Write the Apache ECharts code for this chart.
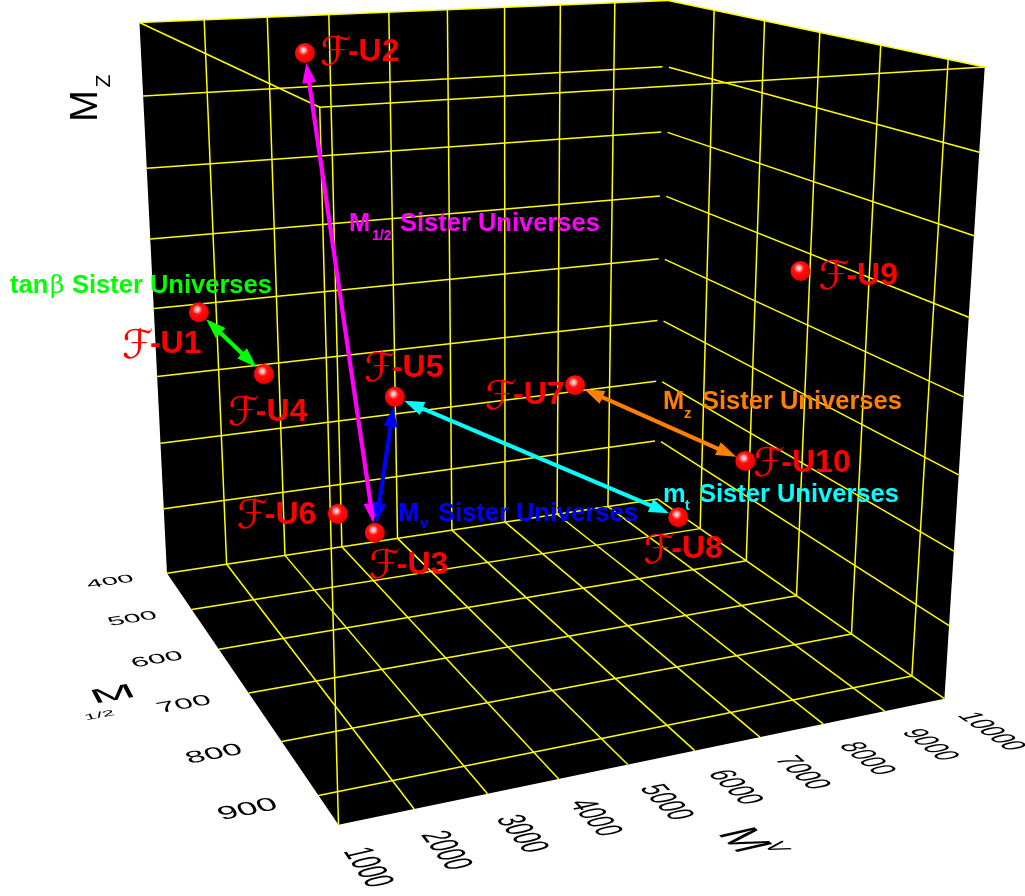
<!DOCTYPE html>
<html><head><meta charset="utf-8">
<style>html,body{margin:0;padding:0;background:#fff}#c{width:1025px;height:896px}</style>
<script src="https://cdn.jsdelivr.net/npm/echarts@6/dist/echarts.min.js"></script>
</head><body><div id="c"></div>
<script>
// ---- data ----
const universes=['U1','U2','U3','U4','U5','U6','U7','U8','U9','U10'];
const mHalf=[550,550,450,550,550,450,650,650,750,750];
const mV=[1120,2842,4316,2065,4133,3684,6445,8264,9335,8509];
const mZ=[4.46,7.77,0.44,3.52,2.98,0.82,3.31,1.17,4.98,2.44];
const mHalfTicks=[400,500,600,700,800,900];
const mVTicks=[1000,2000,3000,4000,5000,6000,7000,8000,9000,10000];
const mZTicks=[0,1,2,3,4,5,6,7,8];
const mHalfMax=950;
const sisters=[[0,3,'#00ff00'],[1,2,'#ff00ff'],[2,4,'#0000ff'],[4,7,'#00ffff'],[6,9,'#ff8000']];

// ---- camera: a perspective projection fitted to where the box sits on the page ----
const cameraAnchors=[
 [400,1000,0,167,572],[950,1000,0,340,826],[950,10000,0,947,697],[400,10000,0,660,500],
 [400,1000,8,139,22],[950,1000,8,322,107],[950,10000,8,986,67],[400,10000,8,666,1],
 [950,3000,0,487,795],[950,5000,0,626,765],[950,7000,0,757,737],[950,8000,0,821,723]];
const nm=m=>(m-400)/550,nv=v=>(v-1000)/9000,nz=z=>z/8;
function fit(){
 const A=[],b=[];
 cameraAnchors.forEach(([m,v,z,x,y])=>{const X=[nm(m),nv(v),nz(z),1];
  A.push([...X,0,0,0,0,...X.slice(0,3).map(q=>-q*x)]);b.push(x);
  A.push([0,0,0,0,...X,...X.slice(0,3).map(q=>-q*y)]);b.push(y);});
 const n=11,N=[];for(let i=0;i<n;i++){N.push(new Array(n+1).fill(0));
  for(let j=0;j<n;j++)for(let k=0;k<A.length;k++)N[i][j]+=A[k][i]*A[k][j];
  for(let k=0;k<A.length;k++)N[i][n]+=A[k][i]*b[k];}
 for(let i=0;i<n;i++){let p=i;for(let r=i;r<n;r++)if(Math.abs(N[r][i])>Math.abs(N[p][i]))p=r;
  [N[i],N[p]]=[N[p],N[i]];
  for(let r=0;r<n;r++)if(r!==i){const f=N[r][i]/N[i][i];for(let c=i;c<=n;c++)N[r][c]-=f*N[i][c];}}
 return N.map((row,i)=>row[n]/row[i]);
}
const P=fit();
function project(m,v,z){const a=nm(m),b=nv(v),c=nz(z);const w=P[8]*a+P[9]*b+P[10]*c+1;
 return [(P[0]*a+P[1]*b+P[2]*c+P[3])/w,(P[4]*a+P[5]*b+P[6]*c+P[7])/w];}

const FONT='"Liberation Sans",Arial,sans-serif';
const labelOffsets=[[-77,32],[15,-1],[-6,32],[-36,38],[-31,-29],[-101,1],[-90,10],[-35,32],[18,5],[8,2]];
const zMax=mZTicks[mZTicks.length-1],vMin=mVTicks[0],vMax=mVTicks[mVTicks.length-1],mMin=mHalfTicks[0];
const seg=[];
const inner=a=>a.slice(1,-1);
inner(mVTicks).forEach(v=>{seg.push([mMin,v,0,mMin,v,zMax]);seg.push([mMin,v,0,mHalfMax,v,0]);});
seg.push([mMin,vMax,0,mHalfMax,vMax,0]);
inner(mZTicks).forEach(z=>{seg.push([mMin,vMin,z,mMin,vMax-80,z]);seg.push([mMin+5,vMax,z,mHalfMax,vMax,z]);});
mHalfTicks.slice(1).forEach(m=>{seg.push([m,vMax,0,m,vMax,zMax]);seg.push([m,vMin,0,m,vMax,0]);});
seg.push([mMin,vMin,0,mMin,vMax,0]);
seg.push([mMin,vMin,zMax,mMin,vMax,zMax],[mMin,vMax,zMax,mHalfMax,vMax,zMax],[mMin,vMin,zMax,mHalfMax,vMin,zMax],[mHalfMax,vMin,zMax,mHalfMax,vMax,zMax],[mHalfMax,vMin,0,mHalfMax,vMin,zMax]);

function svd(a,b,c,d){const E=(a+d)/2,F=(a-d)/2,G=(c+b)/2,H=(c-b)/2,Q=Math.hypot(E,H),R=Math.hypot(F,G);
 const a1=Math.atan2(G,F),a2=Math.atan2(H,E);return {sx:Q+R,sy:Q-R,theta:(a2-a1)/2,phi:(a2+a1)/2};}
function planeText(api,item){
 const [m,v]=[item.m,item.v];const o=project(m,v,0);
 const um=item.along==='v'?[m,v+item.ku]:[m+item.ku,v];
 const vm=item.along==='v'?[m+item.kv,v]:[m,v-item.kv];
 const pu=project(um[0],um[1],0),pv=project(vm[0],vm[1],0);
 const s=svd(pu[0]-o[0],pv[0]-o[0],pu[1]-o[1],pv[1]-o[1]);
 const c=api.coord(o);
 return {type:'group',x:c[0],y:c[1],rotation:-s.phi,scaleX:s.sx,scaleY:s.sy,children:[{type:'text',rotation:-s.theta,
  style:{text:item.text,x:0,y:0,align:'center',verticalAlign:'middle',fill:'#000',font:item.size+'px '+FONT}}]};
}
const planeLabels=[];
mHalfTicks.forEach(m=>planeLabels.push({text:String(m),m:m,v:70,along:'v',ku:22.5,kv:1.5,size:20}));
mVTicks.forEach(v=>planeLabels.push({text:String(v),m:1018,v:v-10,along:'m',ku:1.3,kv:24.8,size:20}));
planeLabels.push({text:'M',m:657,v:-780,along:'v',ku:24.8,kv:1.35,size:30});
planeLabels.push({text:'1/2',m:692,v:-1090,along:'v',ku:24.8,kv:1.35,size:12});
planeLabels.push({text:'M',m:1093,v:5420,along:'m',ku:1.35,kv:24,size:30});
planeLabels.push({text:'V',m:1112,v:5710,along:'m',ku:1.35,kv:24,size:16});

const SZ=25.5;
const notes=[
 ['M',349,224,SZ,'#ff00ff'],['1/2',372,236,14,'#ff00ff'],['Sister Universes',400,224,SZ,'#ff00ff'],
 ['m',663,495,SZ,'#00ffff'],['t',685,506,14,'#00ffff'],['Sister Universes',699,495,SZ,'#00ffff'],
 ['M',663,402,SZ,'#ff8000'],['z',684,414,15,'#ff8000'],['Sister Universes',702,402,SZ,'#ff8000'],
 ['M',398,514,SZ,'#0000ff'],['v',420,524,15,'#0000ff'],['Sister Universes',438,514,SZ,'#0000ff'],
 ['tan',10,286,SZ,'#00ff00'],['Sister Universes',72,286,SZ,'#00ff00']];

const chart=echarts.init(document.getElementById('c'),null,{renderer:'canvas'});
chart.setOption({animation:false,backgroundColor:'#fff',grid:{left:0,right:0,top:0,bottom:0},
 xAxis:{type:'value',min:0,max:1025,show:false},yAxis:{type:'value',min:0,max:896,inverse:true,show:false},
 series:[
 {type:'custom',z:1,silent:true,data:[0],clip:false,renderItem(p,api){
   const pts=[[mMin,vMin,zMax],[mMin,vMax,zMax],[mHalfMax,vMax,zMax],[mHalfMax,vMax,0],[mHalfMax,vMin,0],[mMin,vMin,0]].map(q=>api.coord(project(...q)));
   return {type:'polygon',shape:{points:pts},style:{fill:'#000'}};}},
 {type:'custom',z:2,silent:true,data:seg,clip:false,renderItem(p,api){
   const a=api.coord(project(api.value(0),api.value(1),api.value(2))),b=api.coord(project(api.value(3),api.value(4),api.value(5)));
   return {type:'line',shape:{x1:a[0],y1:a[1],x2:b[0],y2:b[1]},style:{stroke:'#ffff00',lineWidth:1.5}};}},
 {type:'custom',z:3,silent:true,data:planeLabels.map((d,i)=>i),clip:false,encode:{x:0,y:0},renderItem(p,api){return planeText(api,planeLabels[p.dataIndex]);}},
 {type:'custom',z:3,silent:true,data:[0],clip:false,renderItem(p,api){
   const a=api.coord([87,106]),b=api.coord([104,81]);
   return {type:'group',children:[
    {type:'text',x:a[0],y:a[1],rotation:Math.PI/2,style:{text:'M',x:0,y:0,align:'center',verticalAlign:'middle',fill:'#000',font:'38px '+FONT}},
    {type:'text',x:b[0],y:b[1],rotation:Math.PI/2,style:{text:'Z',x:0,y:0,align:'center',verticalAlign:'middle',fill:'#000',font:'21px '+FONT}}]};}},
 {type:'custom',z:4,silent:true,data:sisters.map((s,i)=>i),clip:false,encode:{x:0,y:0},renderItem(p,api){
   const s=sisters[p.dataIndex],i=s[0],j=s[1];
   const a=api.coord(project(mHalf[i],mV[i],mZ[i])),b=api.coord(project(mHalf[j],mV[j],mZ[j]));
   const L=Math.hypot(b[0]-a[0],b[1]-a[1]),ux=(b[0]-a[0])/L,uy=(b[1]-a[1])/L,gap=10,hl=20,hw=7;
   const A=[a[0]+ux*gap,a[1]+uy*gap],Z=[b[0]-ux*gap,b[1]-uy*gap];
   const head=(t,d)=>({type:'polygon',shape:{points:[t,[t[0]+d*ux*hl-uy*hw,t[1]+d*uy*hl+ux*hw],[t[0]+d*ux*hl+uy*hw,t[1]+d*uy*hl-ux*hw]]},style:{fill:s[2]}});
   return {type:'group',children:[{type:'line',shape:{x1:A[0]+ux*8,y1:A[1]+uy*8,x2:Z[0]-ux*8,y2:Z[1]-uy*8},style:{stroke:s[2],lineWidth:4.2}},head(A,1),head(Z,-1)]};}},
 {type:'scatter',z:5,silent:true,symbolSize:20,data:universes.map((u,i)=>project(mHalf[i],mV[i],mZ[i])),
  itemStyle:{opacity:1,color:new echarts.graphic.RadialGradient(0.42,0.36,0.62,[{offset:0,color:'#ffe8e8'},{offset:0.16,color:'#ffb0b0'},{offset:0.4,color:'#ff1010'},{offset:0.8,color:'#ff0000'},{offset:1,color:'#e80000'}])}},
 {type:'custom',z:6,silent:true,data:universes.map((u,i)=>i),clip:false,encode:{x:0,y:0},renderItem(p,api){
   const i=p.dataIndex,c=api.coord(project(mHalf[i],mV[i],mZ[i])),o=labelOffsets[i];
   return {type:'group',x:c[0]+o[0],y:c[1]+o[1],children:[
    {type:'text',style:{text:'\u2131',x:0,y:3,align:'left',verticalAlign:'middle',fill:'#ff0000',font:'italic 40px "DejaVu Sans"'}},
    {type:'text',style:{text:'-'+universes[i],x:28,y:0,align:'left',verticalAlign:'middle',fill:'#ff0000',font:'bold 32px '+FONT}}]};}},
 {type:'custom',z:7,silent:true,data:notes.map((n,i)=>i),clip:false,encode:{x:0,y:0},renderItem(p,api){
   const n=notes[p.dataIndex],c=api.coord([n[1],n[2]]);
   return {type:'text',x:c[0],y:c[1],style:{text:n[0],x:0,y:0,align:'left',verticalAlign:'middle',fill:n[4],font:'bold '+n[3]+'px '+FONT}};}},
 {type:'custom',z:7,silent:true,data:[0],clip:false,renderItem(p,api){const c=api.coord([50,286]);
   return {type:'text',x:c[0],y:c[1],style:{text:'\u03b2',x:0,y:0,align:'left',verticalAlign:'middle',fill:'#00ff00',font:'25px "DejaVu Serif"'}};}}
 ]});
</script></body></html>
